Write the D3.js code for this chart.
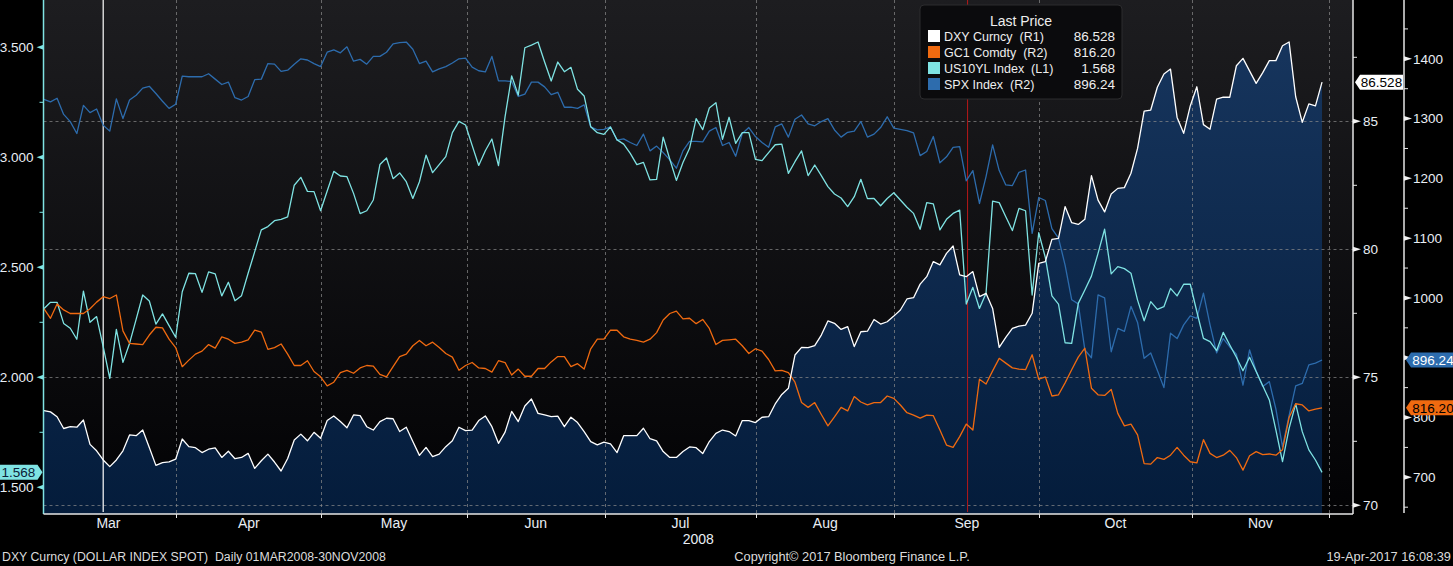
<!DOCTYPE html>
<html>
<head>
<meta charset="utf-8">
<script src="https://cdn.jsdelivr.net/npm/d3@7"></script>
<style>
  body { margin: 0; background: #000; }
  text { font-family: "Liberation Sans", Arial, sans-serif; }
</style>
</head>
<body>
<div id="chart"></div>
<script>
// One value per weekday, index 0 = Mon 03-Mar-2008, last = Fri 28-Nov-2008
const dxy = [
  73.70, 73.65, 73.46, 73.00, 73.07, 73.05, 73.33, 72.38, 72.13, 71.77, 71.51, 71.77, 72.13, 72.75, 72.72, 72.94, 72.26, 71.56, 71.67, 71.70,
  71.80, 72.59, 72.29, 72.25, 72.06, 72.19, 72.24, 71.87, 72.11, 71.82, 71.87, 72.03, 71.44, 71.74, 72.00, 71.69, 71.34, 71.83, 72.55, 72.78,
  72.52, 72.85, 72.62, 73.31, 73.49, 73.27, 73.03, 73.53, 73.50, 73.07, 72.94, 73.27, 73.40, 73.38, 72.88, 73.05, 72.49, 71.95, 72.26, 71.90,
  72.00, 72.29, 72.52, 73.05, 72.92, 72.94, 73.31, 73.49, 73.07, 72.42, 72.86, 73.67, 73.27, 73.88, 74.15, 73.59, 73.53, 73.46, 73.48, 73.07,
  73.44, 73.23, 72.88, 72.49, 72.36, 72.47, 72.40, 72.06, 72.72, 72.72, 72.72, 73.01, 72.60, 72.52, 72.10, 71.87, 71.87, 72.10, 72.28, 72.25,
  72.02, 72.49, 72.81, 72.94, 72.88, 72.71, 73.31, 73.31, 73.23, 73.44, 73.46, 73.96, 74.33, 74.57, 75.87, 76.17, 76.16, 76.24, 76.65, 77.20,
  77.11, 76.87, 76.98, 76.20, 76.78, 76.80, 77.26, 77.08, 77.17, 77.39, 77.63, 78.06, 78.11, 78.64, 78.93, 79.52, 79.39, 79.84, 80.13, 79.00,
  78.93, 79.13, 78.15, 78.28, 77.69, 76.17, 76.56, 76.91, 77.00, 77.04, 77.50, 79.45, 79.52, 80.39, 80.43, 81.67, 81.04, 80.97, 81.17, 82.88,
  81.92, 81.46, 82.16, 82.38, 82.41, 82.97, 83.94, 85.40, 85.44, 86.33, 86.85, 87.04, 85.15, 84.53, 85.60, 86.35, 84.87, 84.69, 85.87, 85.94,
  85.94, 87.17, 87.46, 86.97, 86.48, 86.90, 87.37, 87.37, 87.95, 88.10, 85.96, 84.96, 85.68, 85.60, 86.528
];
const gc1 = [
  982, 966, 990, 980, 974, 974, 974, 982, 993, 1002, 999, 1005, 945, 924, 923, 922, 938, 951, 950, 931,
  917, 885, 896, 906, 911, 922, 916, 935, 931, 924, 926, 930, 946, 943, 914, 917, 923, 906, 887, 887,
  895, 877, 868, 853, 859, 875, 879, 874, 883, 887, 886, 872, 868, 885, 902, 906, 920, 929, 920, 926,
  917, 907, 901, 879, 887, 892, 883, 882, 876, 895, 892, 871, 881, 869, 869, 882, 882, 893, 902, 902,
  885, 890, 881, 915, 931, 931, 946, 946, 935, 931, 929, 926, 931, 942, 963, 974, 978, 965, 966, 957,
  964, 949, 922, 929, 930, 931, 920, 907, 915, 911, 897, 878, 879, 875, 859, 825, 817, 825, 805, 786,
  801, 817, 811, 835, 826, 821, 825, 825, 836, 832, 821, 808, 804, 799, 804, 803, 779, 754, 750, 768,
  789, 779, 864, 856, 878, 899, 891, 883, 881, 880, 905, 864, 868, 836, 838, 858, 880, 901, 916, 849,
  838, 837, 847, 807, 786, 789, 771, 723, 722, 733, 730, 737, 750, 737, 726, 724, 763, 740, 733, 737,
  745, 733, 712, 736, 743, 738, 739, 737, 746, 800, 823, 821, 811, 814, 816.20
];
const us10yl = [
  2.312, 2.341, 2.341, 2.245, 2.223, 2.173, 2.392, 2.250, 2.276, 2.139, 1.995, 2.218, 2.068, 2.154, 2.263, 2.374, 2.347, 2.242, 2.288, 2.235,
  2.182, 2.389, 2.473, 2.471, 2.386, 2.479, 2.470, 2.370, 2.432, 2.348, 2.371, 2.473, 2.571, 2.670, 2.685, 2.712, 2.718, 2.729, 2.873, 2.909,
  2.845, 2.844, 2.757, 2.847, 2.936, 2.915, 2.912, 2.836, 2.744, 2.757, 2.806, 2.967, 2.997, 2.903, 2.929, 2.889, 2.813, 2.889, 3.010, 2.930,
  2.967, 3.003, 3.112, 3.163, 3.147, 3.054, 2.963, 3.030, 3.083, 2.962, 3.185, 3.370, 3.283, 3.498, 3.510, 3.524, 3.433, 3.347, 3.433, 3.389,
  3.409, 3.309, 3.279, 3.139, 3.112, 3.104, 3.138, 3.079, 3.060, 3.018, 2.967, 2.977, 2.897, 2.900, 3.092, 2.991, 2.895, 2.976, 3.041, 3.176,
  3.126, 3.224, 3.248, 3.082, 3.182, 3.063, 3.112, 3.112, 2.991, 2.985, 3.021, 3.057, 3.060, 2.927, 2.980, 3.029, 2.917, 2.965, 2.917, 2.867,
  2.833, 2.815, 2.776, 2.821, 2.900, 2.812, 2.813, 2.780, 2.813, 2.839, 2.806, 2.773, 2.745, 2.673, 2.794, 2.788, 2.670, 2.718, 2.745, 2.760,
  2.333, 2.409, 2.313, 2.382, 2.801, 2.794, 2.730, 2.667, 2.768, 2.757, 2.374, 2.657, 2.545, 2.370, 2.333, 2.157, 2.154, 2.336, 2.397, 2.460,
  2.563, 2.673, 2.470, 2.503, 2.494, 2.473, 2.351, 2.257, 2.344, 2.309, 2.321, 2.404, 2.370, 2.423, 2.423, 2.298, 2.177, 2.162, 2.121, 2.204,
  2.147, 2.091, 2.030, 2.091, 2.026, 1.962, 1.897, 1.760, 1.617, 1.768, 1.879, 1.753, 1.670, 1.624, 1.568
];
const spx = [
  1332, 1328, 1334, 1307, 1295, 1275, 1322, 1310, 1316, 1289, 1279, 1333, 1300, 1331, 1339, 1351, 1354, 1342, 1329, 1317,
  1324, 1371, 1370, 1370, 1370, 1375, 1366, 1357, 1361, 1335, 1331, 1337, 1365, 1366, 1392, 1391, 1379, 1381, 1391, 1400,
  1398, 1392, 1387, 1411, 1415, 1410, 1420, 1396, 1399, 1391, 1404, 1404, 1411, 1425, 1427, 1428, 1416, 1392, 1396, 1378,
  1383, 1387, 1393, 1400, 1401, 1386, 1380, 1378, 1404, 1363, 1363, 1362, 1337, 1341, 1361, 1361, 1353, 1340, 1344, 1319,
  1319, 1317, 1323, 1286, 1281, 1282, 1286, 1264, 1266, 1260, 1255, 1274, 1246, 1254, 1243, 1231, 1217, 1246, 1262, 1262,
  1261, 1279, 1285, 1255, 1260, 1237, 1275, 1285, 1270, 1260, 1252, 1286, 1291, 1269, 1299, 1306, 1291, 1288, 1295, 1300,
  1281, 1269, 1277, 1279, 1295, 1269, 1274, 1285, 1303, 1284, 1282, 1280, 1276, 1238, 1245, 1270, 1226, 1236, 1252, 1253,
  1196, 1213, 1158, 1203, 1256, 1213, 1189, 1188, 1210, 1214, 1108, 1168, 1163, 1116, 1100, 1055, 997, 990, 913, 900,
  1005, 1000, 910, 949, 944, 986, 959, 899, 908, 879, 850, 941, 932, 955, 970, 966, 1008, 955, 908, 932,
  918, 906, 854, 913, 878, 852, 860, 814, 751, 803, 853, 857, 888, 891, 896.24
];

// x axis: month boundaries in weekday-index units and the month names between them
const monthEdges = [-0.5, 20.1, 42.1, 64.2, 85.1, 108.1, 129.1, 151.1, 174.2, 195.1];
const monthNames = ["Mar", "Apr", "May", "Jun", "Jul", "Aug", "Sep", "Oct", "Nov"];
const yearLabel = "2008";

// axis ticks
const leftTicks = [1.5, 2.0, 2.5, 3.0, 3.5];
const leftMinor = [1.75, 2.25, 2.75, 3.25];
const r1Ticks = [70, 75, 80, 85];
const r1Minor = [72.5, 77.5, 82.5, 87.5];
const r2Ticks = [700, 800, 900, 1000, 1100, 1200, 1300, 1400];
const r2Minor = [650, 750, 850, 950, 1050, 1150, 1250, 1350, 1450, 1500];

// marker lines (weekday index)
const eventLines = [{ i: 9, color: "#ffffff", w: 1.2 }, { i: 140.2, color: "#b81818", w: 1 }];

// second space of each pair is a no-break space so it is not collapsed
const legendNames = ["DXY Curncy \u00A0(R1)", "GC1 Comdty \u00A0(R2)", "US10YL Index \u00A0(L1)", "SPX Index \u00A0(R2)"];
const legendValues = ["86.528", "816.20", "1.568", "896.24"];
const colors = { dxy: "#ffffff", gc1: "#f06a10", us10: "#7fe3e3", spx: "#2d6cad" };

const width = 1453, height = 566;
const plot = { left: 43.5, right: 1353, top: 0, bottom: 514 };

const svg = d3.select("#chart").append("svg")
  .attr("width", width)
  .attr("height", height)
  .style("display", "block")
  .style("background", "#000");

// scales
const x = d3.scaleLinear().domain([-0.06, 198.7]).range([plot.left, plot.right]);
const yL = d3.scaleLinear().domain([1.5, 3.5]).range([487.3, 47.3]);
const yR1 = d3.scaleLinear().domain([70, 85]).range([505.3, 121.3]);
const yR2 = d3.scaleLinear().domain([700, 1400]).range([477.3, 58.8]);

// gradients
const defs = svg.append("defs");
const bg = defs.append("linearGradient").attr("id", "bg")
  .attr("gradientUnits", "userSpaceOnUse").attr("x1", 0).attr("y1", 0).attr("x2", 0).attr("y2", plot.bottom);
bg.append("stop").attr("offset", 0).attr("stop-color", "#1d1d20");
bg.append("stop").attr("offset", 1).attr("stop-color", "#020204");
const fillGrad = defs.append("linearGradient").attr("id", "fillGrad")
  .attr("gradientUnits", "userSpaceOnUse").attr("x1", 0).attr("y1", 0).attr("x2", 0).attr("y2", plot.bottom);
fillGrad.append("stop").attr("offset", 0).attr("stop-color", "#183760");
fillGrad.append("stop").attr("offset", 1).attr("stop-color", "#041c3b");
defs.append("clipPath").attr("id", "clip").append("rect")
  .attr("x", plot.left).attr("y", plot.top)
  .attr("width", plot.right - plot.left).attr("height", plot.bottom - plot.top);

// plot background
svg.append("rect")
  .attr("x", plot.left).attr("y", plot.top)
  .attr("width", plot.right - plot.left).attr("height", plot.bottom - plot.top)
  .attr("fill", "url(#bg)");

const g = svg.append("g").attr("clip-path", "url(#clip)");

// DXY area
g.append("path")
  .datum(dxy)
  .attr("fill", "url(#fillGrad)")
  .attr("d", d3.area().x((d, i) => x(i)).y0(plot.bottom).y1(d => yR1(d)));

// gridlines
g.selectAll(".hgrid").data(r1Ticks).enter().append("line")
  .attr("x1", plot.left).attr("x2", plot.right)
  .attr("y1", d => Math.round(yR1(d)) + 0.5).attr("y2", d => Math.round(yR1(d)) + 0.5)
  .attr("stroke", "#8a8a8a").attr("stroke-opacity", 0.7)
  .attr("stroke-dasharray", "3,3");
g.selectAll(".vgrid").data(monthEdges.slice(1)).enter().append("line")
  .attr("x1", d => Math.round(x(d)) + 0.5).attr("x2", d => Math.round(x(d)) + 0.5)
  .attr("y1", plot.top).attr("y2", plot.bottom)
  .attr("stroke", "#8a8a8a").attr("stroke-opacity", 0.7)
  .attr("stroke-dasharray", "3,3");

// event markers
g.selectAll(".event").data(eventLines).enter().append("line")
  .attr("x1", d => x(d.i)).attr("x2", d => x(d.i))
  .attr("y1", plot.top).attr("y2", plot.bottom - 2)
  .attr("stroke", d => d.color).attr("stroke-width", d => d.w);

// series lines
const series = [
  { data: spx, y: yR2, color: colors.spx },
  { data: us10yl, y: yL, color: colors.us10 },
  { data: gc1, y: yR2, color: colors.gc1 },
  { data: dxy, y: yR1, color: colors.dxy }
];
series.forEach(s => {
  g.append("path")
    .datum(s.data)
    .attr("fill", "none")
    .attr("stroke", s.color)
    .attr("stroke-width", 1.3)
    .attr("stroke-linejoin", "round")
    .attr("d", d3.line().x((d, i) => x(i)).y(d => s.y(d)));
});

// axis lines
svg.append("line").attr("x1", plot.left).attr("x2", plot.left).attr("y1", 0).attr("y2", plot.bottom)
  .attr("stroke", colors.us10).attr("stroke-width", 1.5);
svg.append("line").attr("x1", plot.left).attr("x2", plot.right).attr("y1", plot.bottom).attr("y2", plot.bottom)
  .attr("stroke", "#e6e6e6").attr("stroke-width", 1.5);
svg.append("line").attr("x1", plot.right).attr("x2", plot.right).attr("y1", 0).attr("y2", plot.bottom)
  .attr("stroke", "#e6e6e6").attr("stroke-width", 1.5);
const r2x = 1404;
svg.append("line").attr("x1", r2x).attr("x2", r2x).attr("y1", 0).attr("y2", plot.bottom - 1)
  .attr("stroke", "#e6e6e6").attr("stroke-width", 1.5);

const tickColor = "#e9eef4";

// left axis
svg.selectAll(".lmark").data(leftTicks).enter().append("path")
  .attr("d", d => `M${plot.left},${yL(d) - 2.5}L${plot.left - 7},${yL(d)}L${plot.left},${yL(d) + 2.5}Z`)
  .attr("fill", colors.us10);
svg.selectAll(".lminor").data(leftMinor).enter().append("line")
  .attr("x1", plot.left - 4).attr("x2", plot.left).attr("y1", d => yL(d)).attr("y2", d => yL(d))
  .attr("stroke", colors.us10);
svg.selectAll(".llab").data(leftTicks).enter().append("text")
  .attr("x", 33.5).attr("y", d => yL(d) + 4.8)
  .attr("text-anchor", "end")
  .attr("fill", tickColor).style("font-size", "13.5px")
  .text(d => d3.format(".3f")(d));

// right axis R1
svg.selectAll(".r1mark").data(r1Ticks).enter().append("path")
  .attr("d", d => `M${plot.right},${yR1(d) - 2.5}L${plot.right + 8},${yR1(d)}L${plot.right},${yR1(d) + 2.5}Z`)
  .attr("fill", "#f2f2f2");
svg.selectAll(".r1minor").data(r1Minor).enter().append("line")
  .attr("x1", plot.right).attr("x2", plot.right + 4).attr("y1", d => yR1(d)).attr("y2", d => yR1(d))
  .attr("stroke", "#e6e6e6");
svg.selectAll(".r1lab").data(r1Ticks).enter().append("text")
  .attr("x", plot.right + 10).attr("y", d => yR1(d) + 4.8)
  .attr("fill", tickColor).style("font-size", "13.5px")
  .text(d => d);

// right axis R2 (a label hidden under a last-value tag is not drawn)
const tagValues = [spx[spx.length - 1]];
svg.selectAll(".r2mark").data(r2Ticks).enter().append("path")
  .attr("d", d => `M${r2x},${yR2(d) - 2.5}L${r2x + 8},${yR2(d)}L${r2x},${yR2(d) + 2.5}Z`)
  .attr("fill", "#f2f2f2");
svg.selectAll(".r2minor").data(r2Minor).enter().append("line")
  .attr("x1", r2x).attr("x2", r2x + 4).attr("y1", d => yR2(d)).attr("y2", d => yR2(d))
  .attr("stroke", "#e6e6e6");
svg.selectAll(".r2lab")
  .data(r2Ticks.filter(t => tagValues.every(v => Math.abs(yR2(t) - yR2(v)) > 8)))
  .enter().append("text")
  .attr("x", r2x + 9).attr("y", d => yR2(d) + 4.8)
  .attr("fill", tickColor).style("font-size", "13.5px")
  .text(d => d);

// x axis ticks and labels
svg.selectAll(".xtick").data(monthEdges.slice(1)).enter().append("line")
  .attr("x1", d => Math.round(x(d)) + 0.5).attr("x2", d => Math.round(x(d)) + 0.5)
  .attr("y1", plot.bottom).attr("y2", plot.bottom + 4)
  .attr("stroke", "#e6e6e6");
svg.selectAll(".xlab").data(monthNames).enter().append("text")
  .attr("x", (d, i) => x((monthEdges[i] + monthEdges[i + 1]) / 2))
  .attr("y", 528)
  .attr("text-anchor", "middle")
  .attr("fill", tickColor).style("font-size", "14px")
  .text(d => d);
svg.append("text")
  .attr("x", (plot.left + plot.right) / 2)
  .attr("y", 544)
  .attr("text-anchor", "middle")
  .attr("fill", tickColor).style("font-size", "14px")
  .text(yearLabel);

// last value tags
function tag(xTip, yc, w, dir, fill, txtColor, label) {
  const h = 15, a = 5;
  let pts;
  if (dir === "left") {
    pts = [[xTip, yc], [xTip + a, yc - h / 2], [xTip + a + w, yc - h / 2], [xTip + a + w, yc + h / 2], [xTip + a, yc + h / 2]];
  } else {
    pts = [[xTip, yc], [xTip - a, yc - h / 2], [xTip - a - w, yc - h / 2], [xTip - a - w, yc + h / 2], [xTip - a, yc + h / 2]];
  }
  svg.append("polygon").attr("points", pts.map(p => p.join(",")).join(" ")).attr("fill", fill);
  const cx = dir === "left" ? xTip + a + w / 2 : xTip - a - w / 2;
  svg.append("text").attr("x", cx).attr("y", yc + 5)
    .attr("text-anchor", "middle").attr("fill", txtColor).style("font-size", "13.5px")
    .text(label);
}
tag(plot.left - 1, yL(us10yl[us10yl.length - 1]), 38, "right", colors.us10, "#0b2038", legendValues[2]);
tag(plot.right + 2, yR1(dxy[dxy.length - 1]), 43, "left", "#ffffff", "#000000", legendValues[0]);
tag(r2x + 2, yR2(spx[spx.length - 1]), 44, "left", colors.spx, "#ffffff", legendValues[3]);
tag(r2x + 2, yR2(gc1[gc1.length - 1]), 44, "left", colors.gc1, "#000000", legendValues[1]);

// legend
const lg = svg.append("g").attr("transform", "translate(920,5)");
lg.append("rect").attr("width", 202).attr("height", 94).attr("rx", 4)
  .attr("fill", "#0b0b0d").attr("stroke", "#2c2c2e");
lg.append("text").attr("x", 101).attr("y", 21).attr("text-anchor", "middle")
  .attr("fill", "#eeeeee").style("font-size", "14px").text("Last Price");
const legendColors = [colors.dxy, colors.gc1, colors.us10, colors.spx];
legendNames.forEach((name, i) => {
  lg.append("rect").attr("x", 8).attr("y", 25 + i * 16).attr("width", 12).attr("height", 12)
    .attr("fill", legendColors[i]);
  lg.append("text").attr("x", 24).attr("y", 36 + i * 16)
    .attr("fill", "#eeeeee").style("font-size", "12.5px")
    .text(name);
  lg.append("text").attr("x", 195).attr("y", 36 + i * 16).attr("text-anchor", "end")
    .attr("fill", "#eeeeee").style("font-size", "13.5px")
    .text(legendValues[i]);
});

// footer
svg.append("text").attr("x", 2).attr("y", 561)
  .attr("fill", "#dcdcdc").style("font-size", "12.3px")
  .text("DXY Curncy (DOLLAR INDEX SPOT) \u00A0Daily 01MAR2008-30NOV2008");
svg.append("text").attr("x", 852).attr("y", 561).attr("text-anchor", "middle")
  .attr("fill", "#dcdcdc").style("font-size", "12.8px")
  .text("Copyright\u00A9 2017 Bloomberg Finance L.P.");
svg.append("text").attr("x", 1451).attr("y", 561).attr("text-anchor", "end")
  .attr("fill", "#dcdcdc").style("font-size", "12.8px")
  .text("19-Apr-2017 16:08:39");
</script>
</body>
</html>
